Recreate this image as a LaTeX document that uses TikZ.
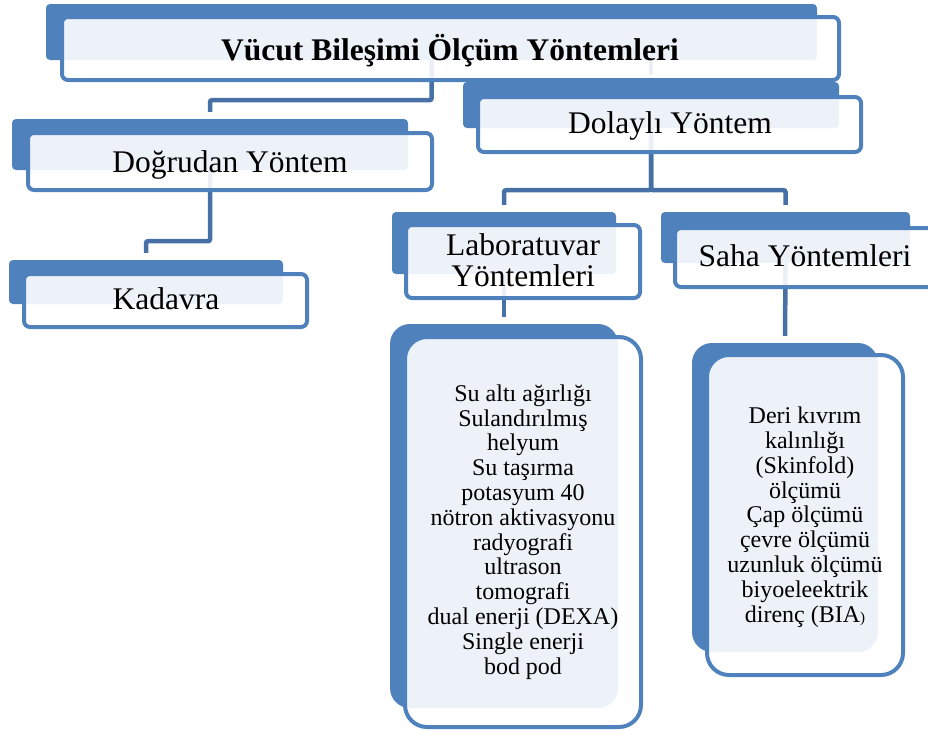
\documentclass[tikz,border=0pt]{standalone}
\usepackage{fontspec}
\setmainfont{Liberation Serif}
\usetikzlibrary{fit,backgrounds}
\definecolor{koyu}{RGB}{79,129,189}
\definecolor{bagmavi}{RGB}{70,112,166}

\begin{document}
\begin{tikzpicture}[x=1pt,y=-1pt,
  geri/.style={fill=koyu,inner sep=0pt},
  onkutu/.style={draw=koyu,line width=4pt,fill=white,fill opacity=0.9,inner sep=0pt},
  yazi/.style={font=\fontsize{31.5}{31}\selectfont,anchor=base,align=center,inner sep=0pt},
  liste/.style={font=\fontsize{24}{24.8}\selectfont,anchor=base,align=center,inner sep=0pt},
  hat/.style={draw=bagmavi,line width=4.5pt,rounded corners=2pt,shorten >=7pt}]
  \useasboundingbox (0,0) rectangle (928,729);
  \foreach \ad/\a/\b/\c/\d/\e/\f/\g/\h/\r in
  {ust/46/4/817/60/62/17/839/80/4,
   dog/12/119/408/170/28/133/432/190/4,
   dol/463/82/839/128/478/97/861/152/4,
   kad/9/260/283/304/24/274/307/327/4,
   lab/392/212/616/274/406/225/640/298/4,
   saha/661/212/910/263/675/228/935/287/4,
   labd/390/324/618/708/405/337/641/727/20,
   sahad/692/343/878/652/707/355/903/675/20} {
    \node[geri,rounded corners=\r pt,fit={(\a,\b)(\c,\d)}] (\ad g) {};
    \node[onkutu,rounded corners=\r pt+2pt,fit={(\e,\f)(\g,\h)}] (\ad f) {};
  }
  \node[yazi,font=\bfseries\fontsize{31.5}{31}\selectfont] (ust) at (450,60)
  {Vücut Bileşimi Ölçüm Yöntemleri};
  \node[yazi] (dog) at (230,172) {Doğrudan Yöntem};
  \node[yazi] (dol) at (670,133) {Dolaylı Yöntem};
  \node[yazi] (kad) at (166,309) {Kadavra};
  \node[yazi] (lab) at (523,286) {Laboratuvar\\Yöntemleri};
  \node[yazi] (saha) at (805,266) {Saha Yöntemleri};
  \node[liste] (labd) at (523,674) {Su altı ağırlığı\\Sulandırılmış\\helyum\\
    Su taşırma\\potasyum 40\\nötron aktivasyonu\\radyografi\\ultrason\\
    tomografi\\dual enerji (DEXA)\\Single enerji\\bod pod};
  \node[liste] (sahad) at (805,622) {Deri kıvrım\\kalınlığı\\(Skinfold)\\
    ölçümü\\Çap ölçümü\\çevre ölçümü\\uzunluk ölçümü\\biyoeleektrik\\
    direnç (BIA{\fontsize{15}{15}\selectfont)}};
  \begin{pgfonlayer}{background}
    \draw[hat] (ustg.south) -- ++(0,40) -| (dogg.north);
    \draw[hat] (dolg.north |- ustg.south) -- (dolg.north);
    \draw[hat] (dogg.south) -- ++(0,71) -| (kadg.north);
    \draw[hat] (dolg.south) -- ++(0,62) -| (labg.north);
    \draw[hat] (dolg.south) -- ++(0,62) -| (sahag.north);
    \draw[hat] (labg.south) -- (labdg.north);
    \draw[hat] (sahag.south) -- (sahadg.north);
  \end{pgfonlayer}
\end{tikzpicture}
\end{document}
